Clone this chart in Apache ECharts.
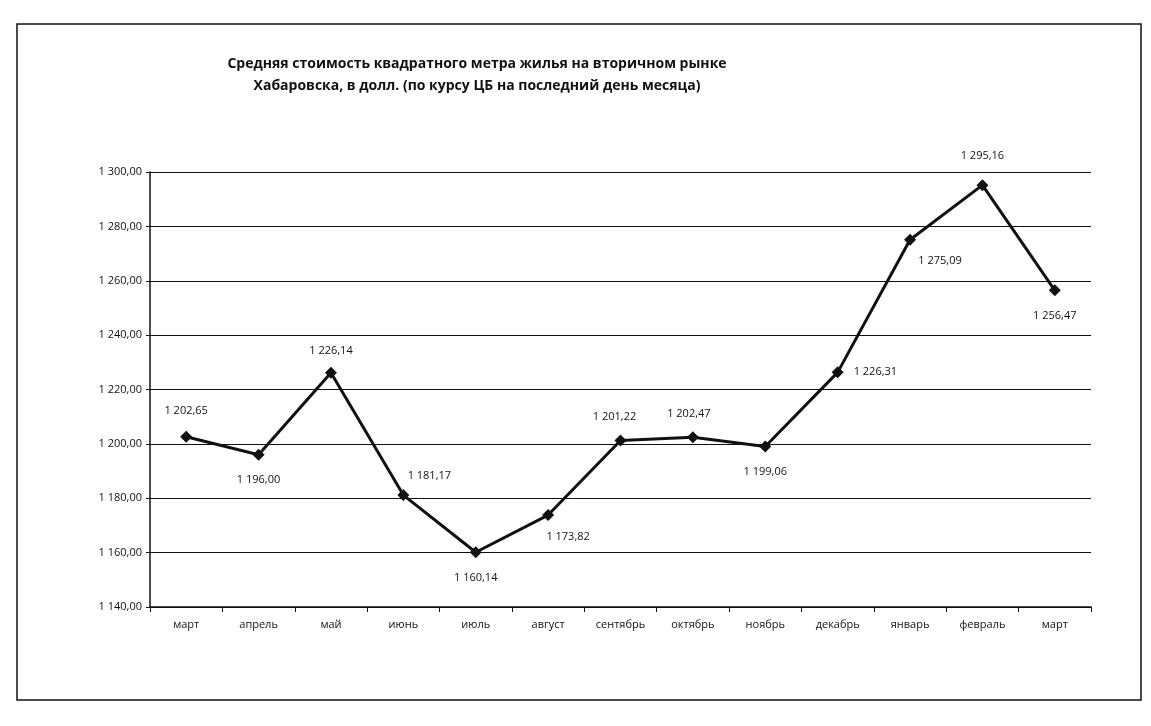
<!DOCTYPE html>
<html>
<head>
<meta charset="utf-8">
<script src="https://cdn.jsdelivr.net/npm/echarts@6/dist/echarts.min.js"></script>
<style>
html,body{margin:0;padding:0;background:#fff;}
#chart{width:1151px;height:726px;}
</style>
</head>
<body>
<div id="chart"></div>
<script>
const titleLines = [
  'Средняя стоимость квадратного метра жилья на вторичном рынке',
  'Хабаровска, в долл. (по курсу ЦБ на последний день месяца)'
];
const months = ['март','апрель','май','июнь','июль','август','сентябрь','октябрь','ноябрь','декабрь','январь','февраль','март'];
const prices = [1202.65, 1196.00, 1226.14, 1181.17, 1160.14, 1173.82, 1201.22, 1202.47, 1199.06, 1226.31, 1275.09, 1295.16, 1256.47];
const yMin = 1140, yMax = 1300, yStep = 20;

function fmt(v){
  const s = v.toFixed(2).split('.');
  const i = s[0].replace(/\B(?=(\d{3})+(?!\d))/g,' ');
  return i + ',' + s[1];
}
const labelPos = [
  {position:'top', distance:14},
  {position:'bottom', distance:14},
  {position:'top', distance:10},
  {position:'top', distance:8, offset:[26,0]},
  {position:'bottom', distance:14},
  {position:'bottom', distance:10, offset:[20,0]},
  {position:'top', distance:12, offset:[-6,0]},
  {position:'top', distance:12, offset:[-4,0]},
  {position:'bottom', distance:14},
  {position:'right', distance:10},
  {position:'bottom', distance:10, offset:[30,0]},
  {position:'top', distance:18},
  {position:'bottom', distance:14}
];
const seriesData = prices.map((v,i)=>({value:v, label:labelPos[i]}));

const chart = echarts.init(document.getElementById('chart'));
chart.setOption({
  backgroundColor:'#fff',
  animation:false,
  title:{
    text: titleLines.join('\n'),
    left: 472, top: 48, textAlign:'center',
    textStyle:{fontFamily:'Open Sans', fontWeight:'bold', fontSize:14, color:'#111', lineHeight:22}
  },
  graphic:[{
    type:'rect', shape:{x:17,y:24,width:1124,height:676},
    style:{fill:null, stroke:'#111', lineWidth:1.5}, silent:true
  }],
  grid:{left:150, right:60, top:172, bottom:119},
  xAxis:{
    type:'category', data: months, boundaryGap:true,
    axisLine:{lineStyle:{color:'#111', width:1.5}},
    axisTick:{show:true, alignWithLabel:false, lineStyle:{color:'#111'}},
    axisLabel:{color:'#111', fontFamily:'Open Sans', fontSize:11, margin:12}
  },
  yAxis:{
    type:'value', min:yMin, max:yMax, interval:yStep,
    axisLine:{show:true, lineStyle:{color:'#111', width:1.5}},
    axisTick:{show:true, length:4, lineStyle:{color:'#111'}},
    axisLabel:{color:'#111', fontFamily:'Open Sans', fontSize:11, margin:8, formatter:fmt},
    splitLine:{lineStyle:{color:'#111', width:1.2}}
  },
  series:[{
    type:'line', data: seriesData,
    symbol:'diamond', symbolSize:12,
    lineStyle:{color:'#111', width:3},
    itemStyle:{color:'#111'},
    label:{show:true, color:'#111', fontFamily:'Open Sans', fontSize:11,
      formatter:p=>fmt(p.value)}
  }]
});
</script>
</body>
</html>
